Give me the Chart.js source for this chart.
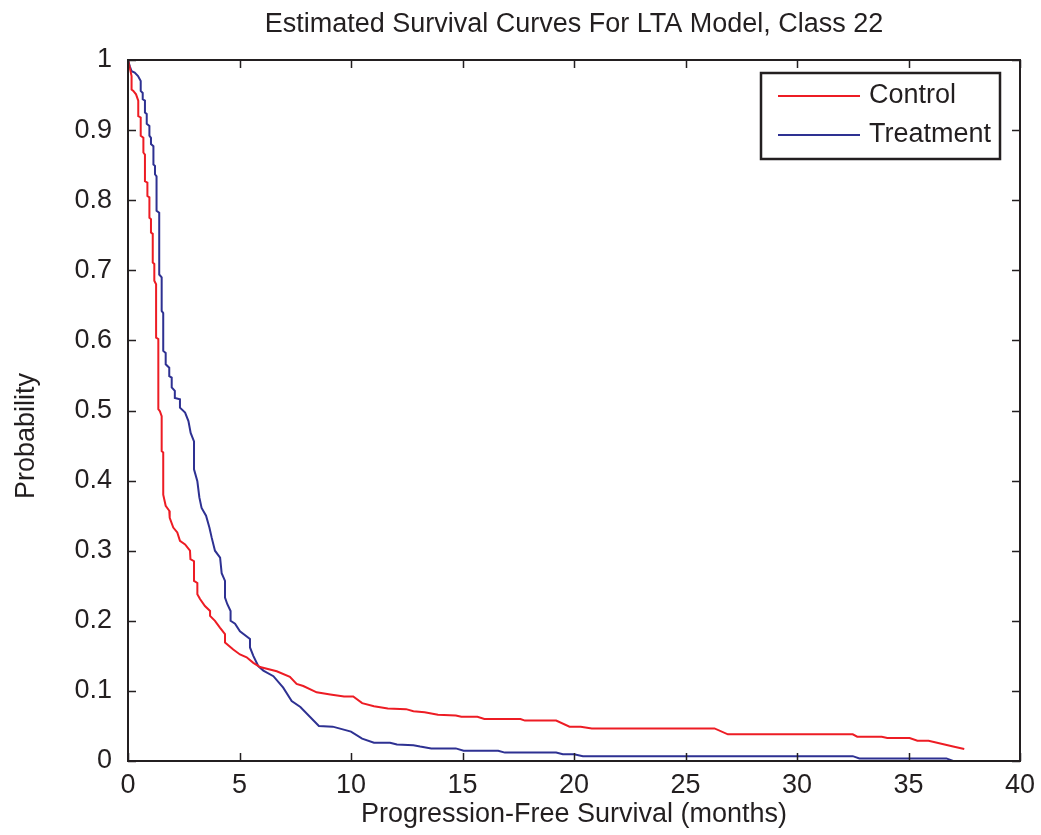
<!DOCTYPE html>
<html lang="en">
<head>
  <meta charset="UTF-8" />
  <title>Estimated Survival Curves For LTA Model, Class 22</title>
  <script src="https://cdn.jsdelivr.net/npm/chart.js"></script>
  <style>
    body { margin: 0; background: #fff; }
    canvas { display: block; }
  </style>
</head>
<body>
  <canvas id="survivalChart" width="1041" height="835"></canvas>

  <script>
    // Kaplan-Meier style curves (months, probability)
    const controlMonths = [0, 0.08, 0.16, 0.16, 0.24, 0.36, 0.46, 0.46, 0.57, 0.57, 0.69, 0.69, 0.76, 0.76, 0.87, 0.87, 0.96, 0.96, 1.03, 1.03,
      1.11, 1.11, 1.18, 1.18, 1.26, 1.26, 1.36, 1.36, 1.43, 1.51, 1.51, 1.58, 1.58, 1.69, 1.85, 1.87, 2.03, 2.21, 2.33, 2.56,
      2.78, 2.8, 2.96, 2.96, 3.11, 3.11, 3.23, 3.45, 3.68, 3.68, 3.9, 4.13, 4.35, 4.35, 4.72, 5.02, 5.32, 5.62, 5.92, 6.67,
      7.26, 7.56, 7.86, 8.46, 9.07, 9.69, 10.1, 10.5, 11.03, 11.65, 12.47, 12.8, 13.3, 13.9, 14.7, 14.95, 15.67, 15.98, 17.6, 17.8,
      19.2, 19.8, 20.3, 20.8, 26.3, 26.9, 32.5, 32.7, 33.8, 34.05, 35.05, 35.4, 35.9, 37.0, 37.5];
    const controlProb = [1, 0.989, 0.977, 0.958, 0.956, 0.951, 0.942, 0.92, 0.918, 0.892, 0.889, 0.868, 0.865, 0.827, 0.825, 0.806, 0.804, 0.775, 0.773, 0.754,
      0.752, 0.711, 0.709, 0.685, 0.68, 0.604, 0.602, 0.502, 0.499, 0.492, 0.442, 0.44, 0.38, 0.364, 0.357, 0.347, 0.333, 0.326, 0.314, 0.309,
      0.3, 0.288, 0.285, 0.257, 0.254, 0.238, 0.231, 0.221, 0.214, 0.207, 0.2, 0.19, 0.181, 0.169, 0.159, 0.152, 0.148, 0.14, 0.134, 0.128,
      0.12, 0.11, 0.107, 0.098, 0.095, 0.092, 0.092, 0.0825, 0.078, 0.075, 0.074, 0.071, 0.0696, 0.066, 0.065, 0.063, 0.063, 0.06, 0.06, 0.0576,
      0.0576, 0.049, 0.049, 0.0465, 0.0465, 0.038, 0.038, 0.0346, 0.0346, 0.0327, 0.0327, 0.029, 0.029, 0.0207, 0.017];

    const treatmentMonths = [0, 0.08, 0.16, 0.3, 0.45, 0.57, 0.57, 0.66, 0.66, 0.76, 0.76, 0.84, 0.84, 0.96, 0.96, 1.03, 1.03, 1.14, 1.14, 1.21,
      1.21, 1.28, 1.28, 1.4, 1.4, 1.51, 1.51, 1.58, 1.58, 1.69, 1.69, 1.85, 1.85, 1.96, 1.96, 2.1, 2.1, 2.33, 2.33, 2.56,
      2.71, 2.81, 2.96, 2.96, 3.11, 3.2, 3.3, 3.5, 3.65, 3.75, 3.9, 4.13, 4.2, 4.35, 4.35, 4.45, 4.6, 4.6, 4.8, 5.02,
      5.47, 5.47, 5.62, 5.84, 6.07, 6.52, 6.96, 7.34, 7.73, 8.56, 9.18, 10.0, 10.5, 11.03, 11.75, 12.06, 12.8, 13.1, 13.6, 14.7,
      15.05, 16.6, 16.9, 19.2, 19.5, 20.0, 20.4, 32.5, 32.8, 36.7, 37.0, 37.5];
    const treatmentProb = [1, 0.991, 0.984, 0.982, 0.977, 0.97, 0.956, 0.953, 0.944, 0.942, 0.925, 0.923, 0.909, 0.906, 0.892, 0.889, 0.88, 0.877, 0.851, 0.849,
      0.837, 0.834, 0.785, 0.782, 0.694, 0.69, 0.642, 0.639, 0.585, 0.582, 0.566, 0.561, 0.549, 0.547, 0.533, 0.528, 0.518, 0.516, 0.504, 0.497,
      0.485, 0.468, 0.456, 0.416, 0.399, 0.376, 0.361, 0.35, 0.333, 0.319, 0.3, 0.29, 0.268, 0.257, 0.233, 0.224, 0.214, 0.2, 0.196, 0.185,
      0.174, 0.162, 0.15, 0.1355, 0.129, 0.121, 0.1046, 0.0856, 0.077, 0.05, 0.049, 0.042, 0.032, 0.026, 0.026, 0.0235, 0.0226, 0.0207, 0.018, 0.018,
      0.0147, 0.0147, 0.012, 0.012, 0.0097, 0.0097, 0.0069, 0.0069, 0.0037, 0.0037, 0, 0];

    const seriesNames = ['Control', 'Treatment'];
    const seriesColors = ['#ed1c24', '#2e3192'];

    const chartTitle = 'Estimated Survival Curves For LTA Model, Class 22';
    const xTitle = 'Progression-Free Survival (months)';
    const yTitle = 'Probability';

    const FONT = '"Liberation Sans", Arial, Helvetica, sans-serif';
    const FSIZE = 27;
    const INK = '#231f20';

    function toPoints(xs, ys) {
      return xs.map((x, i) => ({ x: x, y: ys[i] }));
    }

    // matlab-ish frame: box, inward ticks, legend box, title and ylabel
    const matlabFrame = {
      id: 'matlabFrame',
      afterDatasetsDraw(chart) {
        const ctx = chart.ctx;
        const a = chart.chartArea;
        const xs = chart.scales.x, ys = chart.scales.y;
        const tl = 8;
        ctx.save();
        ctx.strokeStyle = INK;
        ctx.lineWidth = 2;
        ctx.strokeRect(a.left, a.top, a.right - a.left, a.bottom - a.top);
        ctx.lineWidth = 1.5;
        ctx.beginPath();
        xs.ticks.forEach(t => {
          const px = Math.round(xs.getPixelForValue(t.value)) + 0.5;
          ctx.moveTo(px, a.bottom); ctx.lineTo(px, a.bottom - tl);
          ctx.moveTo(px, a.top); ctx.lineTo(px, a.top + tl);
        });
        ys.ticks.forEach(t => {
          const py = Math.round(ys.getPixelForValue(t.value)) + 0.5;
          ctx.moveTo(a.left, py); ctx.lineTo(a.left + tl, py);
          ctx.moveTo(a.right, py); ctx.lineTo(a.right - tl, py);
        });
        ctx.stroke();

        // legend
        const lx = 761, ly = 73, lw = 239, lh = 86;
        ctx.fillStyle = '#fff';
        ctx.fillRect(lx, ly, lw, lh);
        ctx.lineWidth = 2.5;
        ctx.strokeStyle = INK;
        ctx.strokeRect(lx, ly, lw, lh);
        ctx.font = FSIZE + 'px ' + FONT;
        ctx.textBaseline = 'middle';
        ctx.textAlign = 'left';
        chart.data.datasets.forEach((ds, i) => {
          const yy = 96 + i * 39;
          ctx.strokeStyle = ds.borderColor;
          ctx.lineWidth = 2;
          ctx.beginPath();
          ctx.moveTo(778, yy); ctx.lineTo(860, yy);
          ctx.stroke();
          ctx.fillStyle = INK;
          ctx.fillText(ds.label, 869, yy);
        });

        // title
        ctx.fillStyle = INK;
        ctx.textAlign = 'center';
        ctx.fillText(chartTitle, (a.left + a.right) / 2, 25);

        // y label
        ctx.translate(27, 436);
        ctx.rotate(-Math.PI / 2);
        ctx.fillText(yTitle, 0, 0);
        ctx.restore();
      }
    };

    function drawChart() {
      const ctx = document.getElementById('survivalChart').getContext('2d');
      new Chart(ctx, {
        type: 'line',
        data: {
          datasets: [
            {
              label: seriesNames[0],
              data: toPoints(controlMonths, controlProb),
              borderColor: seriesColors[0],
              borderWidth: 2,
              pointRadius: 0,
              tension: 0,
              fill: false
            },
            {
              label: seriesNames[1],
              data: toPoints(treatmentMonths, treatmentProb),
              borderColor: seriesColors[1],
              borderWidth: 2,
              pointRadius: 0,
              tension: 0,
              fill: false
            }
          ]
        },
        options: {
          responsive: false,
          animation: false,
          devicePixelRatio: 1,
          layout: { padding: { top: 60, right: 21, bottom: 0, left: 0 } },
          plugins: {
            legend: { display: false },
            title: { display: false },
            tooltip: { enabled: false }
          },
          scales: {
            x: {
              type: 'linear',
              min: 0,
              max: 40,
              grid: { display: false },
              border: { display: false },
              ticks: {
                stepSize: 5,
                color: INK,
                padding: 0,
                maxRotation: 0,
                font: { family: FONT, size: FSIZE }
              },
              title: {
                display: true,
                text: xTitle,
                color: INK,
                padding: { top: 0, bottom: 4 },
                font: { family: FONT, size: FSIZE }
              },
              afterFit(scale) { scale.height = 74; }
            },
            y: {
              type: 'linear',
              min: 0,
              max: 1,
              grid: { display: false },
              border: { display: false },
              ticks: {
                stepSize: 0.1,
                color: INK,
                padding: 8,
                font: { family: FONT, size: FSIZE },
                callback: v => String(+v.toFixed(1))
              },
              afterFit(scale) { scale.width = 128; }
            }
          }
        },
        plugins: [matlabFrame]
      });
    }

    drawChart();
  </script>
</body>
</html>
